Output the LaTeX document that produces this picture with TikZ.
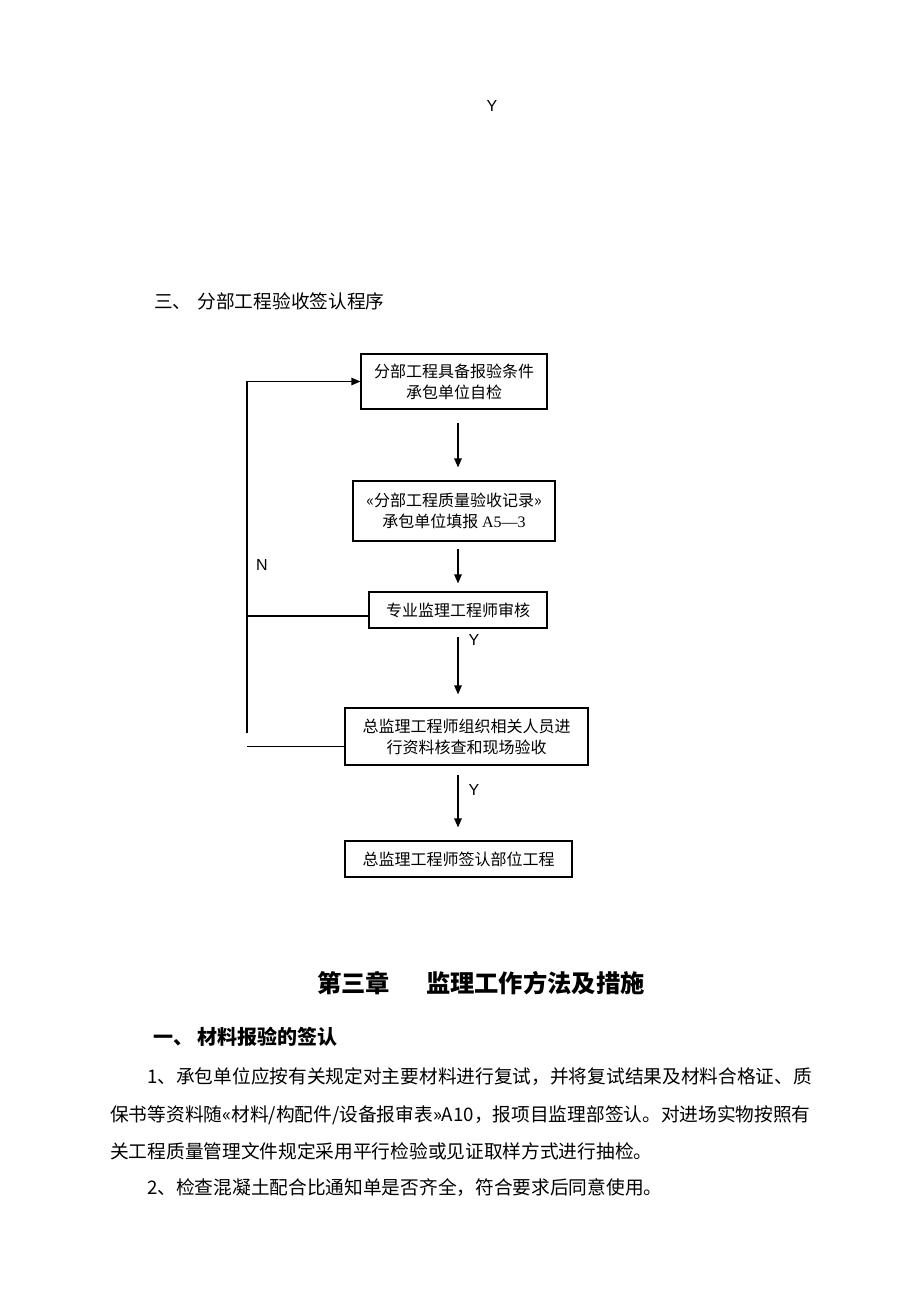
\documentclass[tikz,border=0pt]{standalone}
\usepackage{fontspec}
\setmainfont{Noto Sans CJK SC}
\newfontfamily\arialf{Liberation Sans}
\newfontfamily\serifl{Liberation Serif}
\usetikzlibrary{arrows.meta,calc}
\begin{document}
\begin{tikzpicture}[x=1pt,y=-1pt,
  box/.style={draw, line width=1.2pt, inner sep=0pt, align=center,
    font=\fontsize{16pt}{21pt}\selectfont},
  arr/.style={line width=1.2pt, -{Triangle[length=9pt,width=7.5pt]}},
  ln/.style={line width=1.2pt},
  yn/.style={font=\arialf\fontsize{16pt}{18pt}\selectfont, inner sep=0pt},
  body/.style={anchor=west, inner sep=0pt, font=\fontsize{18.7pt}{22pt}\selectfont}
]
\useasboundingbox[fill=white] (0,0) rectangle (920,1302);

\node[yn] (ytop) at (492,106) {Y};

\node[body] (h3) at (154,301) {三、\hspace{6pt}分部工程验收签认程序};

% boxes
\node[box, minimum width=186pt, minimum height=55pt] (b1) at (454,381.5)
  {分部工程具备报验条件\\承包单位自检};
\node[box, minimum width=202pt, minimum height=60pt] (b2) at (454,511)
  {«分部工程质量验收记录»\\承包单位填报 {\serifl A5—3}};
\node[box, minimum width=178pt, minimum height=36pt] (b3) at (458,610)
  {专业监理工程师审核};
\node[box, minimum width=243pt, minimum height=57pt] (b4) at (466.5,736.5)
  {总监理工程师组织相关人员进\\行资料核查和现场验收};
\node[box, minimum width=227pt, minimum height=36pt] (b5) at (458.5,859)
  {总监理工程师签认部位工程};

% vertical arrows
\coordinate (ax) at (458,0);
\draw[arr, shorten <=13pt, shorten >=13pt] (b1.south -| ax) -- (b2.north -| ax);
\draw[arr, shorten <=7pt, shorten >=8pt] (b2.south -| ax) -- (b3.north -| ax);
\draw[arr, shorten <=8pt, shorten >=13pt] (b3.south -| ax) -- (b4.north -| ax);
\draw[arr, shorten <=9pt, shorten >=13pt] (b4.south -| ax) -- (b5.north -| ax);

\node[yn] (y1) at (474,640) {Y};
\node[yn] (y2) at (474,790) {Y};

% N loop
\coordinate (lx) at (247,0);
\coordinate (top) at (b1.west -| lx);
\coordinate (bot) at (247,733);
\draw[arr] (bot) -- (top) -- (b1.west);
\coordinate (e3) at ($(b3.west)+(0,6)$);
\draw[ln] (e3) -- (e3 -| lx);
\coordinate (e4) at ($(b4.west)+(0,10)$);
\draw[ln] (e4) -- (e4 -| lx);
\node[yn] (n) at (262,565) {N};

% text below
\node[anchor=west, inner sep=0pt, font=\bfseries\fontsize{24.3pt}{28pt}\selectfont] (ch) at (317,983)
  {第三章\hspace{36pt}监理工作方法及措施};
\node[anchor=west, inner sep=0pt, font=\bfseries\fontsize{20pt}{24pt}\selectfont] (s1) at (153,1037)
  {一、\hspace{4pt}材料报验的签认};
\node[body] (p1) at (147,1077) {1、承包单位应按有关规定对主要材料进行复试，并将复试结果及材料合格证、质};
\node[body] (p2) at (110,1115) {保书等资料随«材料/构配件/设备报审表»A10，报项目监理部签认。对进场实物按照有};
\node[body] (p3) at (110,1151) {关工程质量管理文件规定采用平行检验或见证取样方式进行抽检。};
\node[body] (p4) at (147,1188) {2、检查混凝土配合比通知单是否齐全，符合要求后同意使用。};
\end{tikzpicture}
\end{document}
